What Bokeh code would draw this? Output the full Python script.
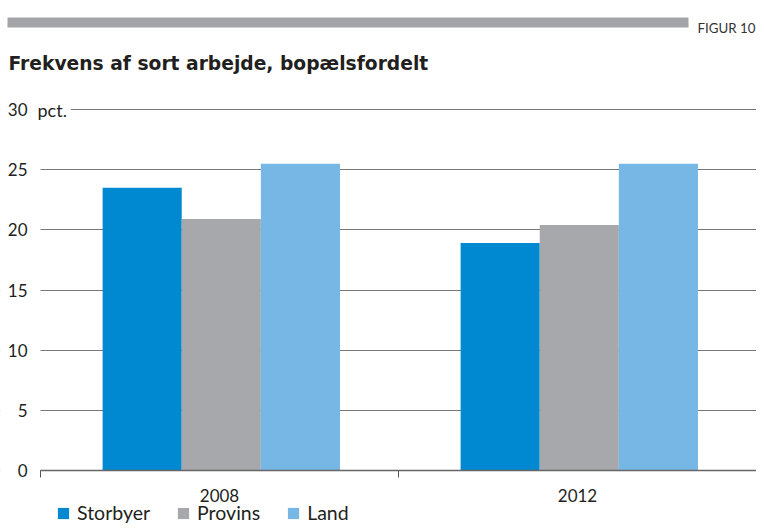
import numpy as np
from bokeh.plotting import figure
from bokeh.models import (ColumnDataSource, Range1d, FixedTicker, Label, Legend, LegendItem,
                          BoxAnnotation)
from bokeh.embed import file_html
from bokeh.resources import INLINE

# ---- data ----
years = ["2008", "2012"]
series = ["Storbyer", "Provins", "Land"]
storbyer = [23.5, 18.9]
provins = [20.9, 20.4]
land = [25.5, 25.5]
y_ticks = [0, 5, 10, 15, 20, 25, 30]
colors = ["#0089d1", "#a7a8ab", "#77b7e5"]
title_text = "Frekvens af sort arbejde, bopælsfordelt"
figure_tag = "FIGUR 10"
unit_text = "pct."

FONT = "Lato"
W, H = 756, 524

# pixel helpers (layout only): the frame spans the whole canvas
PX_Y = 361.0 / 30.0       # pixels per percentage point
PX_X = 358.0              # pixels per category
def fx(sx):
    return (sx - 40.0) / PX_X
def fy(sy):
    return (470.0 - sy) / PX_Y

p = figure(width=W, height=H, x_range=Range1d(fx(0), fx(W)), y_range=Range1d(fy(H), fy(0)),
           toolbar_location=None, output_backend="svg", min_border=0)
p.outline_line_color = None
p.xgrid.visible = False
p.ygrid.grid_line_color = "#777777"
p.ygrid.grid_line_width = 1.2
p.ygrid.ticker = FixedTicker(ticks=y_ticks)

# white mask left of the plotting area so grid lines start at the category axis
p.add_layout(BoxAnnotation(left=fx(-20), right=0, bottom=-1, top=31, fill_color="white",
                           fill_alpha=1.0, line_color=None, level="underlay"))

centers = np.arange(len(years)) + 0.505
bw = 0.221
offsets = [-bw, 0.0, bw]
renderers = []
for name, vals, col, off in zip(series, [storbyer, provins, land], colors, offsets):
    src = ColumnDataSource(dict(x=centers + off, top=vals, year=years))
    r = p.vbar(x="x", top="top", bottom=0, width=bw, source=src, fill_color=col, line_color=None)
    renderers.append((name, r))

# y axis (drawn at x = 0)
p.yaxis.fixed_location = 0
p.yaxis.bounds = (0, 30)
p.yaxis.ticker = FixedTicker(ticks=y_ticks)
p.yaxis.axis_line_color = None
p.yaxis.major_tick_line_color = None
p.yaxis.minor_tick_line_color = None
p.yaxis.major_tick_out = 0
p.yaxis.major_label_text_font = FONT
p.yaxis.major_label_text_font_size = "17px"
p.yaxis.major_label_text_color = "#231f20"
p.yaxis.major_label_standoff = 13

# x axis (drawn at y = 0)
tick_pos = [float(c - 0.005) for c in centers]
p.xaxis.fixed_location = 0
p.xaxis.bounds = (0, len(years))
p.xaxis.ticker = FixedTicker(ticks=tick_pos, minor_ticks=list(range(len(years) + 1)))
p.xaxis.major_label_overrides = {t: y for t, y in zip(tick_pos, years)}
p.xaxis.axis_line_color = "#666666"
p.xaxis.axis_line_width = 1.3
p.xaxis.major_tick_line_color = None
p.xaxis.major_tick_out = 0
p.xaxis.major_tick_in = 0
p.xaxis.minor_tick_line_color = "#555555"
p.xaxis.minor_tick_out = 7
p.xaxis.minor_tick_in = 0
p.xaxis.major_label_text_font = FONT
p.xaxis.major_label_text_font_size = "17px"
p.xaxis.major_label_text_color = "#231f20"
p.xaxis.major_label_standoff = 11

# unit label at the top grid line
p.add_layout(Label(x=0, y=30, text=unit_text, text_font=FONT, text_font_size="18px",
                   text_color="#231f20", text_baseline="middle", x_offset=-7,
                   background_fill_color="white", padding=4))

# header bar, figure tag and title
p.add_layout(BoxAnnotation(left=fx(7), right=fx(688), top=fy(17), bottom=fy(27),
                           fill_color="#a3a4a7", fill_alpha=1.0, line_color=None))
p.add_layout(Label(x=fx(697), y=fy(27), text=figure_tag, text_font=FONT, text_font_size="13.3px",
                   text_color="#333333", text_baseline="alphabetic"))
p.add_layout(Label(x=fx(8), y=fy(63), text=title_text, text_font="DejaVu Sans",
                   text_font_size="18.7px", text_font_style="bold", text_color="#231f20",
                   text_baseline="alphabetic"))

legend = Legend(items=[LegendItem(label=n, renderers=[r]) for n, r in renderers],
                orientation="horizontal", location=(56, 0), padding=0, margin=0,
                spacing=26, glyph_width=14, glyph_height=14, label_height=14,
                label_standoff=7, label_text_font=FONT, label_text_font_size="19.5px",
                label_text_color="#231f20", border_line_color=None,
                background_fill_alpha=0)
p.add_layout(legend)

open("out.html", "w").write(file_html(p, INLINE))
